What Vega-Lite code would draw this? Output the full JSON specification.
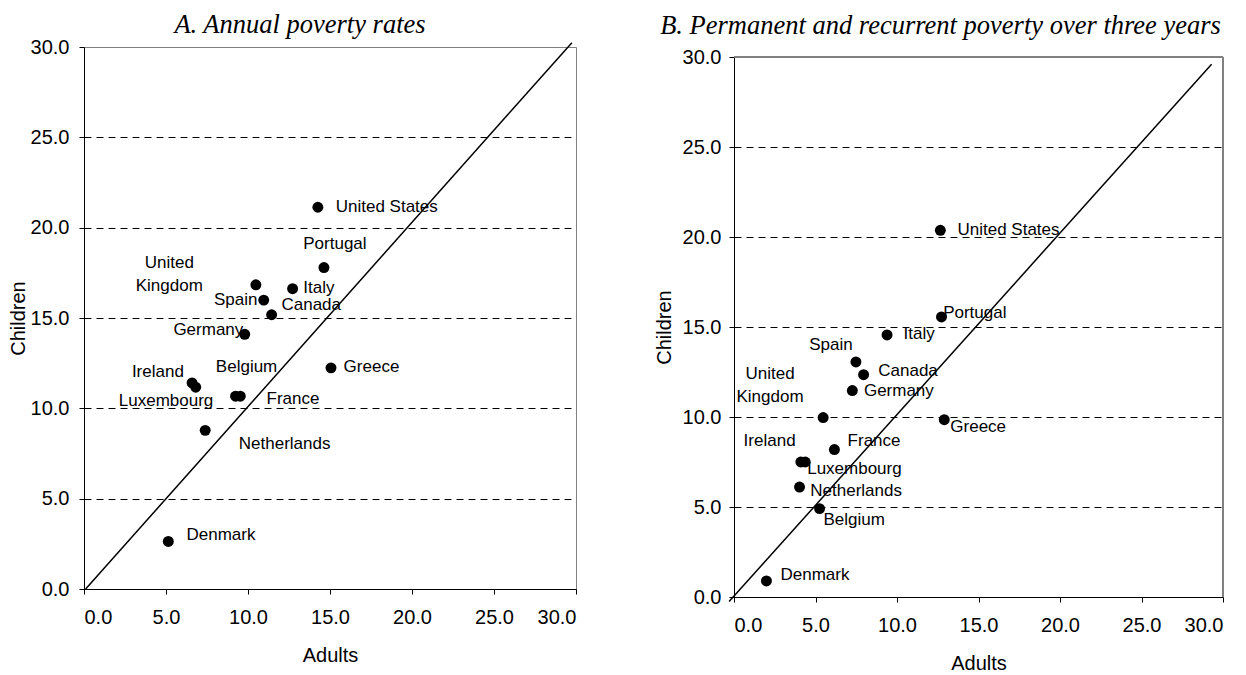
{
  "$schema": "https://vega.github.io/schema/vega-lite/v6.json",
  "padding": {"left": 7, "top": 11, "right": 0, "bottom": 0},
  "spacing": 77,
  "columns": 2,
  "align": "none",
  "bounds": "full",
  "background": "white",
  "config": {
    "view": {"stroke": "#808080", "strokeWidth": 1},
    "axis": {
      "domainColor": "black",
      "domainWidth": 1,
      "tickColor": "black",
      "tickSize": 5,
      "labelFont": "Liberation Sans",
      "labelFontSize": 20,
      "labelColor": "black",
      "titleFont": "Liberation Sans",
      "titleFontSize": 20,
      "titleFontWeight": "normal",
      "titleColor": "black",
      "format": ".1f"
    },
    "axisX": {"grid": false, "labelPadding": 13.5, "titlePadding": 18},
    "axisY": {"labelPadding": 10, "titlePadding": 2},
    "title": {"font": "Liberation Serif", "fontStyle": "italic", "fontWeight": "normal", "fontSize": 26.5, "color": "black", "frame": "group", "anchor": "middle"}
  },
  "datasets": {
    "annual": [
      {"country": "United States", "adults": 14.26, "children": 21.13, "label_x": 15.35, "label_y": 21.15},
      {"country": "Portugal", "adults": 14.63, "children": 17.79, "label_x": 13.37, "label_y": 19.12},
      {"country": "United Kingdom", "adults": 10.48, "children": 16.84, "label_x": 5.2, "label_y": 18.06},
      {"country": "Italy", "adults": 12.72, "children": 16.62, "label_x": 13.37, "label_y": 16.68},
      {"country": "Spain", "adults": 10.96, "children": 15.99, "label_x": 7.92, "label_y": 15.97},
      {"country": "Canada", "adults": 11.44, "children": 15.18, "label_x": 12.04, "label_y": 15.7},
      {"country": "Germany", "adults": 9.8, "children": 14.1, "label_x": 5.45, "label_y": 14.31},
      {"country": "Greece", "adults": 15.06, "children": 12.24, "label_x": 15.83, "label_y": 12.31},
      {"country": "Ireland", "adults": 6.59, "children": 11.41, "label_x": 2.92, "label_y": 12.0},
      {"country": "Luxembourg", "adults": 6.81, "children": 11.17, "label_x": 2.12, "label_y": 10.43},
      {"country": "Belgium", "adults": 9.24, "children": 10.67, "label_x": 8.04, "label_y": 12.31},
      {"country": "France", "adults": 9.53, "children": 10.67, "label_x": 11.13, "label_y": 10.52},
      {"country": "Netherlands", "adults": 7.39, "children": 8.78, "label_x": 9.44, "label_y": 8.03},
      {"country": "Denmark", "adults": 5.14, "children": 2.63, "label_x": 6.25, "label_y": 2.99}
    ],
    "three_years": [
      {"country": "United States", "adults": 12.66, "children": 20.37, "label_x": 13.71, "label_y": 20.41},
      {"country": "Portugal", "adults": 12.73, "children": 15.56, "label_x": 12.83, "label_y": 15.78},
      {"country": "Italy", "adults": 9.39, "children": 14.56, "label_x": 10.4, "label_y": 14.59},
      {"country": "Spain", "adults": 7.48, "children": 13.06, "label_x": 4.61, "label_y": 13.98},
      {"country": "Canada", "adults": 7.95, "children": 12.35, "label_x": 8.85, "label_y": 12.56},
      {"country": "Germany", "adults": 7.26, "children": 11.47, "label_x": 7.97, "label_y": 11.43},
      {"country": "United Kingdom", "adults": 5.47, "children": 9.97, "label_x": 2.21, "label_y": 12.41},
      {"country": "Greece", "adults": 12.9, "children": 9.85, "label_x": 13.27, "label_y": 9.44},
      {"country": "France", "adults": 6.16, "children": 8.19, "label_x": 6.97, "label_y": 8.65},
      {"country": "Ireland", "adults": 4.1, "children": 7.5, "label_x": 0.59, "label_y": 8.65},
      {"country": "Luxembourg", "adults": 4.37, "children": 7.5, "label_x": 4.49, "label_y": 7.13},
      {"country": "Netherlands", "adults": 4.02, "children": 6.11, "label_x": 4.68, "label_y": 5.87},
      {"country": "Belgium", "adults": 5.25, "children": 4.91, "label_x": 5.49, "label_y": 4.26},
      {"country": "Denmark", "adults": 1.99, "children": 0.89, "label_x": 2.85, "label_y": 1.24}
    ],
    "diagonal_annual": [
      {"adults": 0.1, "children": 0.0},
      {"adults": 29.75, "children": 30.24}
    ],
    "diagonal_three_years": [
      {"adults": -0.3, "children": -0.25},
      {"adults": 29.3, "children": 29.6}
    ]
  },
  "concat": [
    {
      "title": {"text": "A. Annual poverty rates", "offset": -1, "dx": -30},
      "width": 492,
      "height": 542,
      "data": {"name": "annual"},
      "layer": [
        {
          "data": {"name": "diagonal_annual"},
          "mark": {"type": "line", "color": "black", "strokeWidth": 1.5, "clip": false},
          "encoding": {
            "x": {"field": "adults", "type": "quantitative", "title": "Adults", "scale": {"domain": [0, 30], "nice": false, "zero": false},
              "axis": {"values": [0, 5, 10, 15, 20, 25, 30]}},
            "y": {"field": "children", "type": "quantitative", "title": "Children", "scale": {"domain": [0, 30], "nice": false, "zero": false},
              "axis": {"values": [0, 5, 10, 15, 20, 25, 30], "grid": true, "gridDash": [7, 5], "gridColor": {"condition": {"test": "datum.value == 0 || datum.value == 30", "value": "transparent"}, "value": "black"}}}
          }
        },
        {
          "transform": [{"filter": "datum.country != 'United Kingdom'"}],
          "mark": {"type": "text", "align": "left", "baseline": "middle", "font": "Liberation Sans", "fontSize": 17, "color": "black"},
          "encoding": {
            "x": {"field": "label_x", "type": "quantitative", "title": "Adults"},
            "y": {"field": "label_y", "type": "quantitative", "title": "Children"},
            "text": {"field": "country"}
          }
        },
        {
          "transform": [{"filter": "datum.country == 'United Kingdom'"}],
          "mark": {"type": "text", "align": "center", "baseline": "middle", "font": "Liberation Sans", "fontSize": 17, "color": "black", "lineBreak": " ", "lineHeight": 23},
          "encoding": {
            "x": {"field": "label_x", "type": "quantitative", "title": "Adults"},
            "y": {"field": "label_y", "type": "quantitative", "title": "Children"},
            "text": {"field": "country"}
          }
        },
        {
          "mark": {"type": "circle", "size": 120, "color": "black", "opacity": 1},
          "encoding": {
            "x": {"field": "adults", "type": "quantitative", "title": "Adults"},
            "y": {"field": "children", "type": "quantitative", "title": "Children"}
          }
        }
      ]
    },
    {
      "title": {"text": "B. Permanent and recurrent poverty over three years", "offset": 8, "dx": -38},
      "width": 489,
      "height": 550,
      "view": {"stroke": null},
      "data": {"name": "three_years"},
      "layer": [
        {
          "mark": {"type": "rule", "color": "#808080", "strokeWidth": 1},
          "encoding": {
            "x": {"datum": 0, "type": "quantitative"},
            "x2": {"datum": 30},
            "y": {"datum": 30, "type": "quantitative"}
          }
        },
        {
          "mark": {"type": "rule", "color": "#808080", "strokeWidth": 1},
          "encoding": {
            "x": {"datum": 30, "type": "quantitative"},
            "y": {"datum": 0, "type": "quantitative"},
            "y2": {"datum": 30}
          }
        },
        {
          "data": {"name": "diagonal_three_years"},
          "mark": {"type": "line", "color": "black", "strokeWidth": 1.5, "clip": false},
          "encoding": {
            "x": {"field": "adults", "type": "quantitative", "title": "Adults", "scale": {"domain": [0, 30], "nice": false, "zero": false},
              "axis": {"values": [0, 5, 10, 15, 20, 25, 30]}},
            "y": {"field": "children", "type": "quantitative", "title": "Children", "scale": {"domain": [0, 30], "nice": false, "zero": false, "range": [550, 10]},
              "axis": {"values": [0, 5, 10, 15, 20, 25, 30], "grid": true, "gridDash": [7, 5], "titlePadding": 8, "labelPadding": 8, "gridColor": {"condition": {"test": "datum.value == 0 || datum.value == 30", "value": "transparent"}, "value": "black"}}}
          }
        },
        {
          "transform": [{"filter": "datum.country != 'United Kingdom'"}],
          "mark": {"type": "text", "align": "left", "baseline": "middle", "font": "Liberation Sans", "fontSize": 17, "color": "black"},
          "encoding": {
            "x": {"field": "label_x", "type": "quantitative", "title": "Adults"},
            "y": {"field": "label_y", "type": "quantitative", "title": "Children"},
            "text": {"field": "country"}
          }
        },
        {
          "transform": [{"filter": "datum.country == 'United Kingdom'"}],
          "mark": {"type": "text", "align": "center", "baseline": "middle", "font": "Liberation Sans", "fontSize": 17, "color": "black", "lineBreak": " ", "lineHeight": 23},
          "encoding": {
            "x": {"field": "label_x", "type": "quantitative", "title": "Adults"},
            "y": {"field": "label_y", "type": "quantitative", "title": "Children"},
            "text": {"field": "country"}
          }
        },
        {
          "mark": {"type": "circle", "size": 120, "color": "black", "opacity": 1},
          "encoding": {
            "x": {"field": "adults", "type": "quantitative", "title": "Adults"},
            "y": {"field": "children", "type": "quantitative", "title": "Children"}
          }
        }
      ]
    }
  ]
}
